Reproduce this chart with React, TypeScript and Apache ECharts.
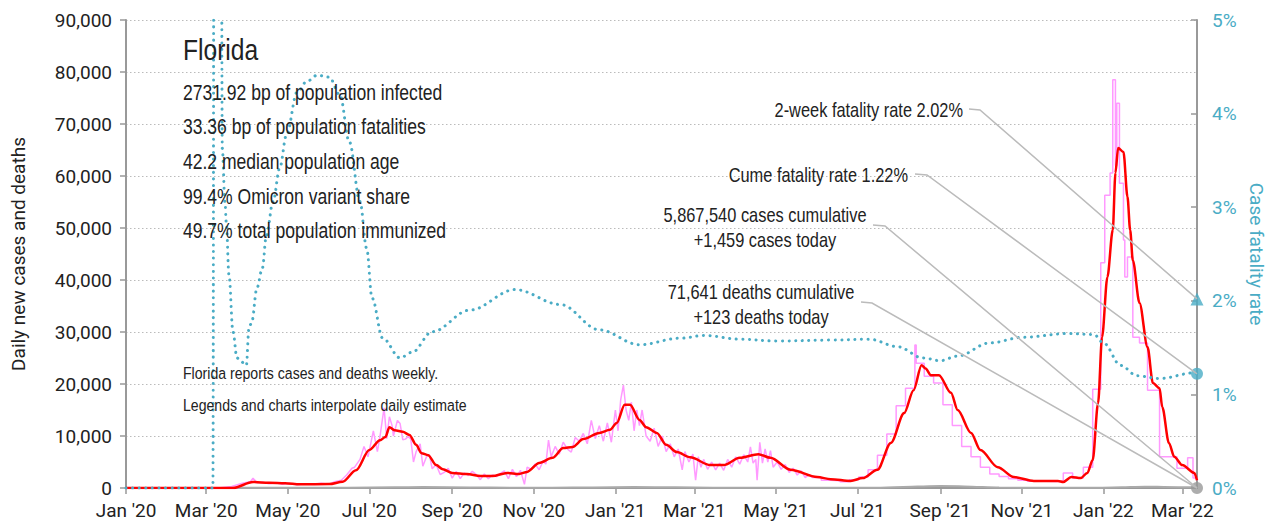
import React, { useEffect, useRef } from "react";
import * as echarts from "echarts";

const AXIS_FONT = "Roboto, 'Liberation Sans', sans-serif";
const TEXT_FONT = "'Liberation Sans', Arial, sans-serif";
const NARROW = 0.82; // horizontal squeeze to mimic a narrow grotesque
const TEAL = "#4aacc5";
const INK = "#222222";

const xStart = "2020-01-01";
const xEnd = "2022-03-12";

const tickDates = [
  "2020-01-01", "2020-03-01", "2020-05-01", "2020-07-01", "2020-09-01", "2020-11-01",
  "2021-01-01", "2021-03-01", "2021-05-01", "2021-07-01", "2021-09-01", "2021-11-01",
  "2022-01-01", "2022-03-01",
];
const tickLabels = [
  "Jan '20", "Mar '20", "May '20", "Jul '20", "Sep '20", "Nov '20",
  "Jan '21", "Mar '21", "May '21", "Jul '21", "Sep '21", "Nov '21",
  "Jan '22", "Mar '22",
];

// daily new cases, 2020 to spring 2021 (daily reporting)
const dailyCases: [string, number][] = [
  ["2020-01-01", 0], ["2020-03-10", 0], ["2020-03-20", 300], ["2020-03-28", 900], ["2020-04-03", 1200],
  ["2020-04-05", 1900], ["2020-04-08", 1000], ["2020-04-12", 1100], ["2020-04-17", 800], ["2020-04-22", 1000],
  ["2020-04-27", 700], ["2020-05-02", 900], ["2020-05-08", 600], ["2020-05-14", 800], ["2020-05-20", 700],
  ["2020-05-26", 900], ["2020-06-01", 700], ["2020-06-05", 1200], ["2020-06-10", 1500], ["2020-06-14", 2500],
  ["2020-06-18", 3800], ["2020-06-20", 4000], ["2020-06-24", 5500], ["2020-06-27", 8000], ["2020-06-30", 6000],
  ["2020-07-04", 11000], ["2020-07-07", 7000], ["2020-07-09", 10000], ["2020-07-12", 15400], ["2020-07-14", 9500],
  ["2020-07-16", 13700], ["2020-07-18", 12000], ["2020-07-19", 10000], ["2020-07-22", 13000], ["2020-07-24", 12400],
  ["2020-07-26", 9300], ["2020-07-28", 9400], ["2020-07-30", 9900], ["2020-08-01", 9400], ["2020-08-03", 5000],
  ["2020-08-05", 7000], ["2020-08-08", 8500], ["2020-08-10", 4200], ["2020-08-13", 6200], ["2020-08-15", 6300],
  ["2020-08-17", 3700], ["2020-08-20", 4500], ["2020-08-23", 2600], ["2020-08-26", 3000], ["2020-08-29", 3800],
  ["2020-09-01", 1900], ["2020-09-04", 3200], ["2020-09-07", 1800], ["2020-09-10", 2900], ["2020-09-13", 2400],
  ["2020-09-16", 3200], ["2020-09-19", 2600], ["2020-09-22", 1600], ["2020-09-25", 2700], ["2020-09-28", 1800],
  ["2020-10-01", 2500], ["2020-10-04", 2200], ["2020-10-07", 2800], ["2020-10-10", 3300], ["2020-10-13", 1800],
  ["2020-10-16", 3600], ["2020-10-19", 2200], ["2020-10-22", 3400], ["2020-10-25", 700], ["2020-10-27", 4000],
  ["2020-10-30", 3600], ["2020-11-02", 4600], ["2020-11-05", 3500], ["2020-11-08", 5200], ["2020-11-10", 4600],
  ["2020-11-12", 9200], ["2020-11-14", 6000], ["2020-11-17", 8000], ["2020-11-20", 6500], ["2020-11-23", 8800],
  ["2020-11-26", 7500], ["2020-11-29", 6900], ["2020-12-02", 9700], ["2020-12-05", 9000], ["2020-12-08", 10500],
  ["2020-12-11", 8500], ["2020-12-14", 13000], ["2020-12-17", 9500], ["2020-12-20", 12000], ["2020-12-23", 9000],
  ["2020-12-26", 12500], ["2020-12-29", 8800], ["2021-01-01", 15000], ["2021-01-03", 11000], ["2021-01-05", 17000],
  ["2021-01-07", 19800], ["2021-01-09", 15000], ["2021-01-11", 13000], ["2021-01-13", 16500], ["2021-01-15", 11000],
  ["2021-01-17", 15000], ["2021-01-19", 12000], ["2021-01-21", 15000], ["2021-01-24", 10000], ["2021-01-27", 9000],
  ["2021-01-30", 11500], ["2021-02-02", 8000], ["2021-02-05", 10000], ["2021-02-08", 7000], ["2021-02-11", 8500],
  ["2021-02-14", 6000], ["2021-02-17", 7500], ["2021-02-20", 3500], ["2021-02-22", 7000], ["2021-02-25", 5000],
  ["2021-02-28", 6500], ["2021-03-02", 1500], ["2021-03-04", 6000], ["2021-03-06", 4000], ["2021-03-08", 5500],
  ["2021-03-11", 3600], ["2021-03-14", 5000], ["2021-03-17", 3500], ["2021-03-20", 4800], ["2021-03-23", 3400],
  ["2021-03-26", 5500], ["2021-03-29", 4000], ["2021-04-01", 6000], ["2021-04-04", 4600], ["2021-04-07", 6400],
  ["2021-04-10", 5000], ["2021-04-12", 7900], ["2021-04-14", 4800], ["2021-04-16", 5500], ["2021-04-17", 1500],
  ["2021-04-19", 8800], ["2021-04-21", 4800], ["2021-04-23", 7500], ["2021-04-25", 5000], ["2021-04-27", 7200],
  ["2021-04-29", 4000], ["2021-05-02", 5000], ["2021-05-05", 3600], ["2021-05-08", 4500], ["2021-05-11", 3000],
  ["2021-05-14", 3800], ["2021-05-17", 2500], ["2021-05-20", 3300], ["2021-05-23", 2000], ["2021-05-26", 2600],
  ["2021-05-28", 2000],
];

// daily new cases after Florida switched to weekly reports (held as steps)
const weeklyCases: [string, number][] = [
  ["2021-05-28", 2000], ["2021-06-04", 1500], ["2021-06-11", 1400], ["2021-06-18", 1200], ["2021-06-25", 1600],
  ["2021-07-02", 2100], ["2021-07-09", 3500], ["2021-07-16", 6300], ["2021-07-23", 10400], ["2021-07-30", 15800],
  ["2021-08-06", 19200], ["2021-08-13", 27500], ["2021-08-14", 24000], ["2021-08-20", 21500], ["2021-08-27", 20200],
  ["2021-09-03", 16000], ["2021-09-10", 12000], ["2021-09-17", 8000], ["2021-09-24", 6000], ["2021-10-01", 4000],
  ["2021-10-08", 2700], ["2021-10-15", 2200], ["2021-10-22", 1800], ["2021-10-29", 1500], ["2021-11-05", 1300],
  ["2021-11-12", 1300], ["2021-11-19", 1250], ["2021-11-26", 1300], ["2021-12-02", 2900], ["2021-12-09", 1900],
  ["2021-12-17", 4000], ["2021-12-24", 19000], ["2021-12-30", 43300], ["2022-01-02", 56300], ["2022-01-06", 60600],
  ["2022-01-08", 78500], ["2022-01-10", 62000], ["2022-01-11", 74000], ["2022-01-13", 58600], ["2022-01-16", 47700],
  ["2022-01-17", 40600], ["2022-01-19", 44400], ["2022-01-23", 29000], ["2022-01-28", 27900], ["2022-02-03", 18800],
  ["2022-02-12", 6000], ["2022-02-25", 3800], ["2022-03-05", 5800], ["2022-03-09", 1900], ["2022-03-12", 1500],
];

// 7-day average of new cases
const avgCases: [string, number][] = [
  ["2020-01-01", 0], ["2020-03-21", 0], ["2020-04-05", 1150], ["2020-04-17", 1000], ["2020-04-29", 900],
  ["2020-05-10", 700], ["2020-06-01", 750], ["2020-06-11", 1200], ["2020-06-21", 3400], ["2020-07-01", 7300],
  ["2020-07-09", 9200], ["2020-07-13", 9800], ["2020-07-16", 11700], ["2020-07-20", 11100], ["2020-07-26", 10800],
  ["2020-07-31", 10200], ["2020-08-05", 8300], ["2020-08-09", 6700], ["2020-08-14", 6300], ["2020-08-20", 4400],
  ["2020-08-25", 3600], ["2020-09-01", 2900], ["2020-09-12", 2700], ["2020-09-22", 2300], ["2020-10-01", 2300],
  ["2020-10-12", 2900], ["2020-10-21", 2700], ["2020-10-27", 3100], ["2020-11-05", 4800], ["2020-11-15", 5800],
  ["2020-11-23", 7700], ["2020-11-30", 7900], ["2020-12-08", 9400], ["2020-12-20", 10600], ["2020-12-28", 11200],
  ["2021-01-02", 12500], ["2021-01-08", 16000], ["2021-01-12", 16000], ["2021-01-19", 13100], ["2021-01-24", 11700],
  ["2021-02-01", 10600], ["2021-02-08", 8300], ["2021-02-16", 6900], ["2021-02-26", 5900], ["2021-03-13", 4400],
  ["2021-03-23", 4400], ["2021-04-04", 5800], ["2021-04-18", 6500], ["2021-04-27", 5800], ["2021-05-12", 3500],
  ["2021-06-01", 2100], ["2021-06-11", 1700], ["2021-06-26", 1350], ["2021-07-05", 1900], ["2021-07-16", 3500],
  ["2021-07-26", 8650], ["2021-08-05", 14400], ["2021-08-12", 18800], ["2021-08-18", 23600], ["2021-08-21", 23000],
  ["2021-08-25", 21700], ["2021-08-31", 21700], ["2021-09-09", 18300], ["2021-09-14", 15000], ["2021-09-24", 10600],
  ["2021-10-01", 7300], ["2021-10-14", 4000], ["2021-10-26", 2100], ["2021-11-10", 1350], ["2021-11-28", 1350],
  ["2021-12-02", 1150], ["2021-12-08", 2100], ["2021-12-15", 1900], ["2021-12-20", 2900], ["2021-12-24", 5400],
  ["2021-12-28", 16300], ["2021-12-31", 29000], ["2022-01-04", 40600], ["2022-01-08", 49600], ["2022-01-10", 60600],
  ["2022-01-12", 65400], ["2022-01-16", 64600], ["2022-01-19", 56000], ["2022-01-21", 49600], ["2022-01-23", 43800],
  ["2022-01-28", 35600], ["2022-02-03", 27100], ["2022-02-07", 20200], ["2022-02-12", 19200], ["2022-02-14", 15600],
  ["2022-02-19", 8650], ["2022-02-23", 6000], ["2022-03-01", 4400], ["2022-03-10", 2900], ["2022-03-12", 1500],
];

// daily deaths (7-day average)
const avgDeaths: [string, number][] = [
  ["2020-01-01", 0], ["2020-03-15", 5], ["2020-04-10", 50], ["2020-05-15", 45], ["2020-06-15", 40],
  ["2020-07-20", 130], ["2020-08-10", 180], ["2020-09-15", 100], ["2020-10-15", 60], ["2020-11-15", 60],
  ["2020-12-15", 100], ["2021-01-15", 170], ["2021-02-15", 140], ["2021-03-15", 70], ["2021-04-15", 60],
  ["2021-05-15", 50], ["2021-06-15", 40], ["2021-07-15", 60], ["2021-08-15", 280], ["2021-09-01", 380],
  ["2021-09-15", 350], ["2021-10-01", 200], ["2021-10-15", 100], ["2021-11-15", 40], ["2021-12-15", 30],
  ["2022-01-15", 150], ["2022-02-01", 250], ["2022-02-15", 200], ["2022-03-12", 123],
];

// case fatality rate, percent (right axis)
const fatalityRate: [string, number][] = [
  ["2020-01-01", 0], ["2020-03-06", 0], ["2020-03-07", 9], ["2020-03-12", 9], ["2020-03-13", 3.63],
  ["2020-03-15", 3.06], ["2020-03-16", 2.84], ["2020-03-18", 2.28], ["2020-03-21", 1.67], ["2020-03-24", 1.39],
  ["2020-03-27", 1.35], ["2020-03-31", 1.31], ["2020-04-02", 1.71], ["2020-04-04", 1.77], ["2020-04-08", 2.14],
  ["2020-04-12", 2.35], ["2020-04-15", 2.7], ["2020-04-20", 3.06], ["2020-04-25", 3.42], ["2020-04-30", 3.77],
  ["2020-05-08", 4.23], ["2020-05-15", 4.34], ["2020-05-23", 4.41], ["2020-06-01", 4.39], ["2020-06-09", 4.2],
  ["2020-06-16", 3.7], ["2020-06-24", 3.06], ["2020-06-29", 2.56], ["2020-07-03", 2.03], ["2020-07-11", 1.6],
  ["2020-07-24", 1.39], ["2020-08-02", 1.45], ["2020-08-17", 1.67], ["2020-09-14", 1.9], ["2020-10-18", 2.12],
  ["2020-11-21", 1.96], ["2020-12-20", 1.69], ["2021-01-19", 1.53], ["2021-02-18", 1.6], ["2021-03-09", 1.63],
  ["2021-04-04", 1.59], ["2021-05-02", 1.57], ["2021-06-11", 1.58], ["2021-07-10", 1.59], ["2021-07-31", 1.51],
  ["2021-08-19", 1.39], ["2021-09-01", 1.36], ["2021-09-14", 1.41], ["2021-10-08", 1.55], ["2021-11-02", 1.61],
  ["2021-12-05", 1.65], ["2021-12-25", 1.64], ["2022-01-01", 1.55], ["2022-01-14", 1.31], ["2022-01-26", 1.2],
  ["2022-02-12", 1.17], ["2022-03-10", 1.23], ["2022-03-12", 1.22],
];

const twoWeekRate = 2.02;
const cumeRate = 1.22;

const statLines = [
  "2731.92 bp of population infected",
  "33.36 bp of population fatalities",
  "42.2 median population age",
  "99.4% Omicron variant share",
  "49.7% total population immunized",
];
const noteLines = [
  "Florida reports cases and deaths weekly.",
  "Legends and charts interpolate daily estimates.",
];

const toTime = (s: string) => new Date(s + "T00:00:00").getTime();
const toPairs = (arr: [string, number][]) => arr.map(([d, v]) => [toTime(d), v]);

export default function App() {
  const ref = useRef<HTMLDivElement>(null);

  useEffect(() => {
    if (!ref.current) return;
    const chart = echarts.init(ref.current, null, { renderer: "svg" });
    const tickTimes = tickDates.map(toTime);
    const lastT = toTime(xEnd);

    const option: any = {
      animation: false,
      backgroundColor: "#ffffff",
      textStyle: { fontFamily: AXIS_FONT },
      grid: { left: 126, right: 73, top: 20, bottom: 39, containLabel: false, outerBoundsMode: "none" },
      xAxis: {
        type: "value",
        min: toTime(xStart),
        max: lastT,
        axisLine: { show: true, onZero: false, lineStyle: { color: "#999999", width: 2 } },
        axisTick: { show: true, length: 6, customValues: tickTimes, lineStyle: { color: "#999999", width: 1.5 } },
        axisLabel: {
          customValues: tickTimes,
          margin: 13,
          fontFamily: AXIS_FONT,
          fontSize: 19,
          color: INK,
          formatter: (v: number) => {
            const i = tickTimes.findIndex((t) => Math.abs(t - v) < 86400000);
            return i >= 0 ? tickLabels[i] : "";
          },
        },
        splitLine: { show: false },
      },
      yAxis: [
        {
          type: "value",
          min: 0,
          max: 90000,
          interval: 10000,
          name: "Daily new cases and deaths",
          nameLocation: "middle",
          nameGap: 98,
          nameRotate: 90,
          nameTextStyle: { fontFamily: AXIS_FONT, fontSize: 19, color: INK },
          axisLine: { show: true, lineStyle: { color: "#999999", width: 2 } },
          axisTick: { show: true, length: 6, lineStyle: { color: "#999999", width: 1.5 } },
          axisLabel: {
            margin: 14,
            fontFamily: AXIS_FONT,
            fontSize: 19,
            color: INK,
            formatter: (v: number) => v.toLocaleString("en-US"),
          },
          splitLine: { show: true, lineStyle: { color: "#bbbbbb", type: [1.5, 2.5], width: 1.2 } },
        },
        {
          type: "value",
          min: 0,
          max: 5,
          interval: 1,
          position: "right",
          name: "Case fatality rate",
          nameLocation: "middle",
          nameGap: 35,
          nameRotate: -90,
          nameTextStyle: { fontFamily: AXIS_FONT, fontSize: 19, color: TEAL },
          axisLine: { show: true, lineStyle: { color: "#999999", width: 2 } },
          axisTick: { show: true, inside: true, length: 6, lineStyle: { color: "#999999", width: 1.5 } },
          axisLabel: { margin: 15, fontFamily: AXIS_FONT, fontSize: 19, color: TEAL, formatter: "{value}%" },
          splitLine: { show: false },
        },
      ],
      series: [
        {
          name: "Daily cases",
          type: "line",
          data: toPairs(dailyCases),
          showSymbol: false,
          symbol: "none",
          lineStyle: { color: "#ff99ff", width: 1.5 },
          z: 2,
        },
        {
          name: "Daily cases (weekly reports)",
          type: "line",
          step: "end",
          data: toPairs(weeklyCases),
          showSymbol: false,
          symbol: "none",
          lineStyle: { color: "#ff99ff", width: 1.5 },
          z: 2,
        },
        {
          name: "Deaths",
          type: "line",
          data: toPairs(avgDeaths),
          showSymbol: false,
          symbol: "none",
          smooth: 0.3,
          lineStyle: { color: "#aaaaaa", width: 2 },
          z: 3,
        },
        {
          name: "7-day average cases",
          type: "line",
          data: toPairs(avgCases),
          showSymbol: false,
          symbol: "none",
          smooth: 0.3,
          smoothMonotone: "x",
          lineStyle: { color: "#ff0000", width: 2.5 },
          z: 4,
        },
        {
          name: "Case fatality rate",
          type: "line",
          yAxisIndex: 1,
          data: toPairs(fatalityRate),
          showSymbol: false,
          symbol: "none",
          smooth: 0.35,
          smoothMonotone: "x",
          clip: true,
          lineStyle: { color: TEAL, width: 3, type: [0.1, 6.5], cap: "round" },
          z: 5,
        },
        {
          name: "2-week fatality rate",
          type: "scatter",
          yAxisIndex: 1,
          data: [[lastT, twoWeekRate]],
          symbol: "triangle",
          symbolSize: 13,
          itemStyle: { color: TEAL },
          clip: false,
          z: 6,
        },
        {
          name: "Cume fatality rate",
          type: "scatter",
          yAxisIndex: 1,
          data: [[lastT, cumeRate]],
          symbol: "circle",
          symbolSize: 12,
          itemStyle: { color: TEAL },
          clip: false,
          z: 6,
        },
        {
          name: "Cumulative endpoint",
          type: "scatter",
          yAxisIndex: 0,
          data: [[lastT, 0]],
          symbol: "circle",
          symbolSize: 12,
          itemStyle: { color: "#999999" },
          clip: false,
          z: 6,
        },
      ],
    };
    chart.setOption(option);

    const pTri = chart.convertToPixel({ xAxisIndex: 0, yAxisIndex: 1 }, [lastT, twoWeekRate]) as number[];
    const pCirc = chart.convertToPixel({ xAxisIndex: 0, yAxisIndex: 1 }, [lastT, cumeRate]) as number[];
    const pZero = chart.convertToPixel({ xAxisIndex: 0, yAxisIndex: 0 }, [lastT, 0]) as number[];

    const txt = (text: string, x: number, y: number, size: number, align = "left", extra: any = {}) => ({
      type: "text",
      x,
      y,
      scaleX: NARROW,
      z: 10,
      silent: true,
      style: {
        text,
        fontFamily: TEXT_FONT,
        fontSize: size,
        fill: INK,
        align,
        verticalAlign: "middle",
        ...extra,
      },
    });
    const leader = (pts: number[][]) => ({
      type: "polyline",
      z: 9,
      silent: true,
      shape: { points: pts },
      style: { stroke: "#bbbbbb", lineWidth: 1.5, fill: "none" },
    });

    const graphic: any[] = [
      txt("Florida", 183, 50, 30),
      ...statLines.map((s, i) => txt(s, 183, 92 + i * 34.7, 21.4)),
      txt(noteLines[0], 183, 373, 17.2),
      txt(noteLines[1], 183, 405, 17.2, "left", { width: 352, overflow: "truncate", ellipsis: "" }),
      txt("2-week fatality rate 2.02%", 963, 110, 20, "right"),
      txt("Cume fatality rate 1.22%", 908, 175, 20, "right"),
      txt("5,867,540 cases cumulative", 765, 215, 20, "center"),
      txt("+1,459 cases today", 765, 240, 20, "center"),
      txt("71,641 deaths cumulative", 761, 292, 20, "center"),
      txt("+123 deaths today", 761, 317, 20, "center"),
      leader([[969, 109], [980, 110], pTri]),
      leader([[915, 174], [927, 175], pCirc]),
      leader([[873, 225], [885, 226], pZero]),
      leader([[861, 302], [872, 303], pZero]),
    ];
    chart.setOption({ graphic });

    return () => chart.dispose();
  }, []);

  return (
    <div
      ref={ref}
      style={{ position: "fixed", left: 0, top: 0, width: 1270, height: 527, background: "#ffffff" }}
    />
  );
}
